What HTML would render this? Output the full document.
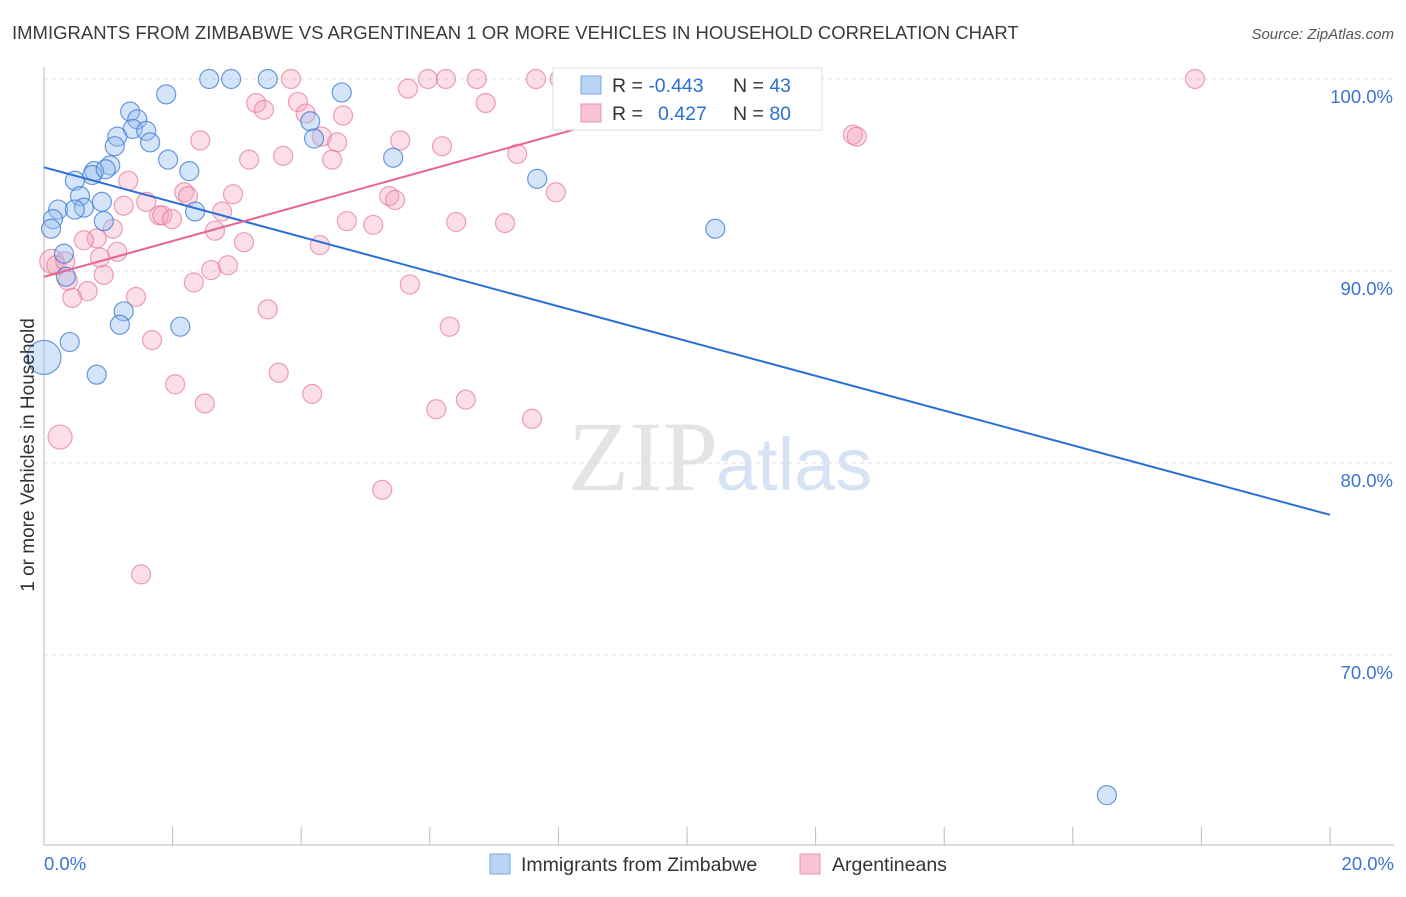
<!DOCTYPE html>
<html><head><meta charset="utf-8"><style>
body{margin:0;background:#fff;font-family:"Liberation Sans",sans-serif;}
</style></head><body>
<svg id="c" width="1406" height="892" xmlns="http://www.w3.org/2000/svg">
<text x="12" y="39" font-size="18.5" fill="#3a3a3a">IMMIGRANTS FROM ZIMBABWE VS ARGENTINEAN 1 OR MORE VEHICLES IN HOUSEHOLD CORRELATION CHART</text>
<text x="1394" y="39" font-size="15" fill="#555" font-style="italic" text-anchor="end">Source: ZipAtlas.com</text>
<text x="718" y="490" font-size="100" fill="#e4e4e4" font-family="Liberation Serif" text-anchor="end">ZIP</text>
<text x="716" y="490" font-size="74" fill="#d6e3f5">atlas</text>
<g id="grid"></g><g id="pts"></g><g id="lines"></g>
<text transform="translate(34,455) rotate(-90)" font-size="19" fill="#333" text-anchor="middle">1 or more Vehicles in Household</text>
<g>
<rect x="553" y="68" width="269" height="62" fill="#fff" stroke="#ddd"/>
<rect x="581" y="76" width="20" height="18" fill="#b8d3f3" stroke="#7aa6e0"/>
<rect x="581" y="104" width="20" height="18" fill="#f8c4d3" stroke="#ec92ad"/>
<text x="612" y="92" font-size="19.5" fill="#333">R = <tspan fill="#2a6fd6">-0.443</tspan><tspan x="733">N = </tspan><tspan fill="#2a6fd6">43</tspan></text>
<text x="612" y="120" font-size="19.5" fill="#333">R = <tspan x="658" fill="#2a6fd6">0.427</tspan><tspan x="733">N = </tspan><tspan fill="#2a6fd6">80</tspan></text>
</g>
<g>
<rect x="490" y="854" width="20" height="20" fill="#b8d3f3" stroke="#7aa6e0"/>
<text x="521" y="871" font-size="19.5" fill="#333">Immigrants from Zimbabwe</text>
<rect x="800" y="854" width="20" height="20" fill="#f8c4d3" stroke="#ec92ad"/>
<text x="832" y="871" font-size="19.5" fill="#333">Argentineans</text>
</g>
</svg>
<script>
const yTicks=[100,90,80,70];
const yTickLabels=["100.0%","90.0%","80.0%","70.0%"];
const xTickLabels=["0.0%","20.0%"];
const blueX=[2.57,2.91,3.48,1.90,4.63,1.34,1.45,1.38,1.59,1.14,1.65,1.10,4.14,4.20,5.43,1.93,1.03,0.78,0.75,0.96,2.26,0.48,7.67,0.56,0.90,0.62,0.22,0.48,2.35,0.14,0.93,0.11,10.44,0.31,0.34,1.24,1.18,2.12,0.40,0,0.82,16.53];
const blueY=[100,100,100,99.2,99.3,98.3,97.9,97.4,97.3,97.0,96.7,96.5,97.8,96.9,95.9,95.8,95.5,95.2,95.0,95.3,95.2,94.7,94.8,93.9,93.6,93.3,93.2,93.2,93.1,92.7,92.6,92.2,92.2,90.9,89.7,87.9,87.2,87.1,86.3,85.5,84.6,62.7];
const pinkX=[3.84,5.97,6.25,6.73,7.65,8.02,8.24,9.04,9.27,10.39,17.90,5.66,3.30,3.42,3.95,4.07,6.87,4.65,4.32,4.56,2.43,5.54,6.19,12.58,12.64,3.72,3.19,4.48,7.36,1.31,2.18,2.24,2.94,5.37,5.46,7.96,1.24,1.59,2.77,1.79,1.84,1.99,4.71,5.12,6.41,7.17,1.07,2.66,0.82,0.62,3.11,4.29,1.14,0.12,0.19,0.33,0.37,0.93,2.33,2.60,2.86,5.69,0.68,0.44,1.43,3.48,6.31,1.68,3.65,2.04,4.17,2.50,6.56,6.10,7.59,0.25,5.26,1.51,0.87];
const pinkY=[100,100,100,100,100,100,100,100,100,100,100,99.5,98.75,98.4,98.8,98.2,98.75,98.1,97.0,96.7,96.8,96.8,96.5,97.1,97.0,96.0,95.8,95.8,96.1,94.7,94.1,93.9,94.0,93.9,93.7,94.1,93.4,93.6,93.1,92.9,92.9,92.7,92.6,92.4,92.55,92.5,92.2,92.1,91.7,91.6,91.5,91.35,91.0,90.5,90.3,90.5,89.5,89.8,89.4,90.05,90.3,89.3,88.95,88.6,88.65,88.0,87.1,86.4,84.7,84.1,83.6,83.1,83.3,82.8,82.3,81.35,78.6,74.2,90.7];
const blueTrend=[95.4,77.3];
const pinkTrend=[89.7,108.3];
const X=v=>44+v*64.3, Y=v=>79+(100-v)*19.2;
const NS="http://www.w3.org/2000/svg";
function mk(t,a,p){const e=document.createElementNS(NS,t);for(const k in a)e.setAttribute(k,a[k]);p.appendChild(e);return e;}
const g=document.getElementById('grid');
yTicks.forEach((t,i)=>{
 const l=mk('line',{x1:44,x2:1394,y1:Y(t),y2:Y(t),stroke:'#ddd','stroke-dasharray':'4,4'},g);
 
 
 const tx=mk('text',{x:1393,y:Y(t)+24,'font-size':18.5,fill:'#3b73d1','text-anchor':'end'},g);
 tx.textContent=yTickLabels[i];
 
 
});
mk('line',{x1:44,x2:44,y1:67,y2:845,stroke:'#bbb'},g);
mk('line',{x1:44,x2:1394,y1:845,y2:845,stroke:'#bbb'},g);
for(let i=0;i<=10;i++){mk('line',{x1:X(i*2),x2:X(i*2),y1:827,y2:845,stroke:'#bbb'},g);}
xTickLabels.forEach((s,i)=>{
 const tx=mk('text',{x:i?1394:44,y:870,'font-size':18.5,fill:'#3b73d1','text-anchor':i?'end':'start'},g);
 tx.textContent=s;
 
 
});
const p=document.getElementById('pts');
pinkX.forEach((x,i)=>{
 let r=9.5; if(i===75)r=12; if(i===53)r=12;
 const c=mk('circle',{cx:X(x),cy:Y(pinkY[i]),r:r,fill:'rgba(244,160,185,0.35)',stroke:'rgba(232,120,155,0.7)','stroke-width':1.2},p);
 
 
});
blueX.forEach((x,i)=>{
 let r=9.5; if(i===39)r=17;
 const c=mk('circle',{cx:X(x),cy:Y(blueY[i]),r:r,fill:'rgba(150,190,240,0.4)',stroke:'rgba(60,120,210,0.75)','stroke-width':1.2},p);
 
 
});
const L=document.getElementById('lines');
const bl=mk('line',{x1:X(0),y1:Y(blueTrend[0]),x2:X(20),y2:Y(blueTrend[1]),stroke:'#2a6fd6','stroke-width':2},L);


const xe=(100-pinkTrend[0])/(pinkTrend[1]-pinkTrend[0])*20;
const pl=mk('line',{x1:X(0),y1:Y(pinkTrend[0]),x2:X(xe),y2:Y(100),stroke:'#e8658f','stroke-width':2},L);


</script>
</body></html>
